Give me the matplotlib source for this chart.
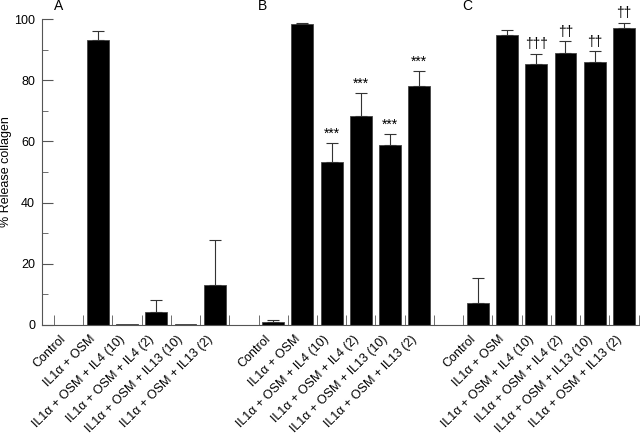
import numpy as np
import matplotlib
matplotlib.use("Agg")
import matplotlib.pyplot as plt
from matplotlib.transforms import ScaledTranslation

plt.rcParams['font.family'] = ['Liberation Sans', 'DejaVu Sans']

labels = ["Control", "IL1\u03b1 + OSM", "IL1\u03b1 + OSM + IL4 (10)",
          "IL1\u03b1 + OSM + IL4 (2)", "IL1\u03b1 + OSM + IL13 (10)",
          "IL1\u03b1 + OSM + IL13 (2)"]
panels = ["A", "B", "C"]

# mean % release and upper error bar (SEM) per panel
means_a = [0.0, 93.0, 0.3, 4.2, 0.3, 13.0]
errs_a = [0.0, 3.0, 0.0, 4.1, 0.0, 14.7]
means_b = [1.0, 98.4, 53.4, 68.3, 58.9, 78.0]
errs_b = [0.5, 0.2, 6.0, 7.4, 3.4, 5.0]
means_c = [7.3, 94.9, 85.4, 88.8, 85.8, 97.2]
errs_c = [8.0, 1.5, 3.2, 4.0, 3.7, 1.6]
marks_b = ["", "", "***", "***", "***", "***"]
marks_c = ["", "", "\u2020\u2020\u2020", "\u2020\u2020", "\u2020\u2020", "\u2020\u2020"]
marks_a = [""] * 6

fig = plt.figure(figsize=(6.4, 4.34), dpi=100)
ax = fig.add_axes([0.0656, 0.2512, 0.9344, 0.705])

all_means = [means_a, means_b, means_c]
all_errs = [errs_a, errs_b, errs_c]
all_marks = [marks_a, marks_b, marks_c]

xs_all = []
for g in range(3):
    xs = np.arange(6) + g * 7
    xs_all.extend(xs)
    m = np.array(all_means[g])
    e = np.array(all_errs[g])
    ax.bar(xs, m, width=0.75, color='black', edgecolor='#444444', linewidth=0.6)
    has = e > 0
    ax.errorbar(xs[has], m[has], yerr=[np.zeros(has.sum()), e[has]], fmt='none',
                ecolor='#333333', elinewidth=0.8, capsize=4, capthick=0.8)
    for x, v, er, mk in zip(xs, m, e, all_marks[g]):
        if mk:
            ax.text(x, v + er + 0.8, mk, ha='center', va='bottom', fontsize=10,
                    clip_on=False)
    ax.text(xs[0] - 0.35, 102, panels[g], ha='center', va='bottom', fontsize=10,
            clip_on=False)

ax.set_xlim(-0.91, 19.55)
ax.set_ylim(0, 100)
ax.set_xticks(xs_all)
ax.set_xticklabels(labels * 3, rotation=45, ha='right', va='top', fontsize=9)
shift = ScaledTranslation(0.04, 0, fig.dpi_scale_trans)
for lab in ax.get_xticklabels():
    lab.set_transform(lab.get_transform() + shift)
ax.set_xticks(np.arange(-0.5, 20, 1.0), minor=True)
ax.tick_params(axis='x', which='major', length=0, pad=6)
ax.tick_params(axis='x', which='minor', direction='in', length=7, color='#555555')
ax.set_yticks(np.arange(0, 101, 20))
ax.set_yticks(np.arange(0, 101, 10), minor=True)
ax.tick_params(axis='y', which='major', direction='in', length=8, labelsize=9,
               color='#555555', pad=5)
ax.tick_params(axis='y', which='minor', direction='in', length=4, color='#555555')
for s in ['top', 'right']:
    ax.spines[s].set_visible(False)
for s in ['left', 'bottom']:
    ax.spines[s].set_color('#555555')
    ax.spines[s].set_linewidth(0.8)
ax.set_ylabel("% Release collagen", fontsize=9)
ax.yaxis.set_label_coords(-0.05, 0.5)

fig.savefig("out.png", dpi=100)
